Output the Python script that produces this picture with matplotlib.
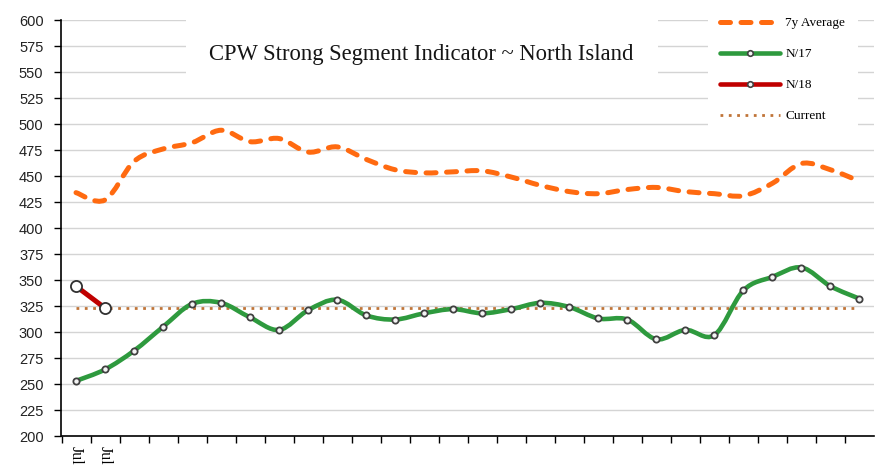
import numpy as np
import matplotlib
matplotlib.use('Agg')
from matplotlib import pyplot as plt
from matplotlib.path import Path
from matplotlib.patches import PathPatch, Rectangle
from matplotlib.lines import Line2D

# data
x_labels = ['Jul', 'Jul'] + [''] * 26
avg_7y = [434, 427, 464, 476, 482, 494, 483, 486, 473, 478, 466, 456, 453, 454,
          455, 449, 441, 435, 433, 437, 439, 435, 433, 431, 443, 462, 456, 445]
n17 = [253, 264, 282, 305, 327, 328, 314, 302, 321, 331, 316, 312, 318, 322,
       318, 322, 328, 324, 313, 312, 293, 302, 297, 340, 353, 362, 344, 332]
n18 = [344, 323]
current = 323
y_ticks = list(range(200, 601, 25))

title = 'CPW Strong Segment Indicator ~ North Island'
serif = ['Liberation Serif', 'DejaVu Serif']

c_avg = '#FF6A10'
c_n17 = '#2E9A3E'
c_n18 = '#C00000'
c_cur = '#C07438'


# smooth curve like a spreadsheet chart: bezier through the points
def smooth_path(xs, ys):
    pts = np.column_stack([xs, ys]).astype(float)
    n = len(pts)
    verts = [pts[0]]
    codes = [Path.MOVETO]
    for i in range(n - 1):
        p0 = pts[max(i - 1, 0)]
        p1 = pts[i]
        p2 = pts[i + 1]
        p3 = pts[min(i + 2, n - 1)]
        verts += [p1 + (p2 - p0) / 6.0, p2 - (p3 - p1) / 6.0, p2]
        codes += [Path.CURVE4] * 3
    return Path(verts, codes)


fig = plt.figure(figsize=(8.82, 4.76), dpi=100)
ax = fig.add_axes([61.5 / 882, 40 / 476, 812.5 / 882, 416 / 476])

xs = np.arange(len(n17))

ax.set_xlim(-0.5, len(n17) - 0.5)
ax.set_ylim(200, 600)
ax.set_yticks(y_ticks)
ax.yaxis.grid(True, color='#D4D4D4', lw=1.0, zorder=0)
ax.set_axisbelow(True)

for s in ['top', 'right']:
    ax.spines[s].set_visible(False)
for s in ['left', 'bottom']:
    ax.spines[s].set_linewidth(1.2)
    ax.spines[s].set_color('black')

ax.tick_params(axis='y', direction='out', length=5, width=1.0, pad=8,
               labelsize=10.5, labelcolor='#222222')
for lab in ax.get_yticklabels():
    lab.set_family(['Liberation Sans', 'DejaVu Sans'])

ax.set_xticks(xs)
ax.set_xticklabels(x_labels, rotation=-90, family=serif, fontsize=11.5)
ax.set_xticks(np.arange(len(n17)) - 0.5, minor=True)
ax.tick_params(axis='x', which='major', length=0, pad=7)
ax.tick_params(axis='x', which='minor', direction='out', length=5, width=1.0)

# current level
ax.hlines(current, xs[0], xs[-1], colors=c_cur, lw=2.0,
          linestyles=(0, (1, 2.0)), zorder=2)

# 7y average
p = PathPatch(smooth_path(xs, avg_7y), fc='none', ec=c_avg, lw=3.6,
              ls=(0, (2.0, 2.1)), capstyle='round', zorder=3)
ax.add_patch(p)

# N/17
p = PathPatch(smooth_path(xs, n17), fc='none', ec=c_n17, lw=3.3,
              capstyle='round', joinstyle='round', zorder=4)
ax.add_patch(p)
ax.plot(xs, n17, ls='none', marker='o', ms=4.5, mfc='#f4f4f4', mec='#404040',
        mew=1.3, zorder=5)

# N/18
x18 = xs[:len(n18)]
ax.plot(x18, n18, color=c_n18, lw=3.6, solid_capstyle='round', zorder=6)
ax.plot(x18, n18, ls='none', marker='o', ms=8, mfc='white', mec='#303030',
        mew=1.3, zorder=7)

# title with white box
ax.add_patch(Rectangle((0.153, 0.868), 0.581, 0.131, transform=ax.transAxes,
                       fc='white', ec='none', zorder=1, clip_on=False))
ax.text(0.443, 0.918, title, transform=ax.transAxes, ha='center', va='center',
        family=serif, fontsize=16.3, color='#151515', zorder=8)

# legend with white box
ax.add_patch(Rectangle(((708 - 61.5) / 812.5, (436 - 136) / 416),
                       150 / 812.5, 125 / 416, transform=ax.transAxes,
                       fc='white', ec='none', zorder=1, clip_on=False))
handles = [
    Line2D([], [], color=c_avg, lw=3.6, ls=(0, (2.0, 2.1)),
           dash_capstyle='round'),
    Line2D([], [], color=c_n17, lw=3.3, marker='o', ms=4, mfc='#f4f4f4',
           mec='#404040', mew=1.2, solid_capstyle='round'),
    Line2D([], [], color=c_n18, lw=3.3, marker='o', ms=4, mfc='#f4f4f4',
           mec='#404040', mew=1.2, solid_capstyle='round'),
    Line2D([], [], color=c_cur, lw=2.0, ls=(0, (1, 2.0))),
]
leg = ax.legend(handles, ['7y Average', 'N/17', 'N/18', 'Current'],
                loc='upper left', bbox_to_anchor=((720 - 61.5) / 812.5, (436 - 17) / 416),
                frameon=False, borderpad=0, borderaxespad=0, numpoints=1,
                handlelength=4.55, handletextpad=0.4, labelspacing=1.42,
                prop={'family': serif, 'size': 9.5})
leg.set_zorder(9)

fig.savefig('out.png', dpi=100, facecolor='white')
